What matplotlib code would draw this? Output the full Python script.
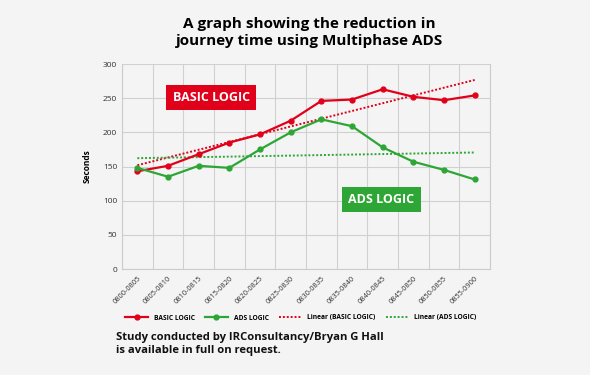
import numpy as np
import matplotlib.pyplot as plt

plt.rcParams['font.family'] = ['Open Sans', 'DejaVu Sans']

# time slots and measured journey times (seconds)
slots = ['0800-0805', '0805-0810', '0810-0815', '0815-0820', '0820-0825', '0825-0830',
         '0830-0835', '0835-0840', '0840-0845', '0845-0850', '0850-0855', '0855-0900']
basic = [143, 151, 168, 185, 197, 217, 246, 248, 263, 252, 247, 254]
ads = [148, 135, 151, 148, 175, 200, 219, 209, 178, 157, 145, 131]

red = '#e1001a'
green = '#2ea636'
bg = '#f4f4f4'

fig = plt.figure(figsize=(5.9, 3.75), dpi=100, facecolor=bg)
ax = fig.add_axes([122/590, 1-269/375, 368/590, 205/375], facecolor=bg)

x = np.arange(len(slots))
ax.plot(x, basic, color=red, lw=1.6, marker='o', ms=3.5, label='BASIC LOGIC', zorder=4)
ax.plot(x, ads, color=green, lw=1.6, marker='o', ms=3.5, label='ADS LOGIC', zorder=4)

# linear trendlines like excel
pb = np.polyfit(x, basic, 1)
pa = np.polyfit(x, ads, 1)
ax.plot(x, np.polyval(pb, x), color=red, lw=1.4, ls=(0, (1, 1)), label='Linear (BASIC LOGIC)', zorder=3)
ax.plot(x, np.polyval(pa, x), color=green, lw=1.4, ls=(0, (1, 1)), label='Linear (ADS LOGIC)', zorder=3)

ax.set_xlim(-0.5, len(slots) - 0.5)
ax.set_ylim(0, 300)
ax.set_yticks(range(0, 301, 50))
ax.set_xticks(x)
ax.set_xticklabels(slots, rotation=45, ha='right', rotation_mode='anchor', fontsize=5.3, color='#333333')
ax.set_xticks(np.arange(-0.5, len(slots), 1), minor=True)
ax.tick_params(axis='y', labelsize=6, length=0, colors='#333333')
ax.tick_params(axis='x', which='both', length=0, pad=4)
ax.grid(axis='y', color='#d0d0d0', lw=0.8)
ax.grid(axis='x', which='minor', color='#d0d0d0', lw=0.8)
for s in ax.spines.values():
    s.set_color('#cccccc')
ax.spines['top'].set_visible(False)
ax.set_ylabel('Seconds', fontsize=6, fontweight='bold', labelpad=8)

fig.legend(*ax.get_legend_handles_labels(), loc='center', bbox_to_anchor=(301/590, 1-318/375), ncol=4,
           frameon=False, prop={'weight': 'bold', 'size': 4.8}, handlelength=3.4, columnspacing=1.5,
           handletextpad=0.9)

# labels on the chart
ax.text(2.41, 251, 'BASIC LOGIC', color='white', fontsize=9, fontweight='bold', ha='center', va='center',
        bbox=dict(boxstyle='square,pad=0.5', fc=red, ec='none'), zorder=5)
ax.text(7.96, 102, 'ADS LOGIC', color='white', fontsize=9, fontweight='bold', ha='center', va='center',
        bbox=dict(boxstyle='square,pad=0.5', fc=green, ec='none'), zorder=5)

fig.text(0.525, 0.955, 'A graph showing the reduction in\njourney time using Multiphase ADS',
         ha='center', va='top', fontsize=11, fontweight='bold', linespacing=1.3)
fig.text(116/590, 1-332/375, 'Study conducted by IRConsultancy/Bryan G Hall\nis available in full on request.',
         ha='left', va='top', fontsize=8.1, fontweight='bold', linespacing=1.3, color='#111111')

fig.savefig('out.png', dpi=100, facecolor=bg)
